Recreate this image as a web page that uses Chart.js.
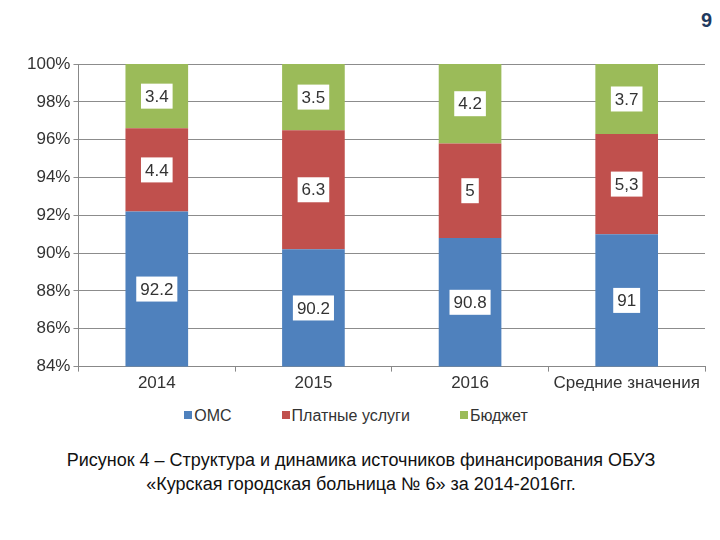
<!DOCTYPE html>
<html>
<head>
 <title>Структура источников финансирования</title>
 <script src="https://cdn.jsdelivr.net/npm/chart.js"></script>
 <style>
  body { margin: 0; width: 720px; height: 540px; background: #fff; font-family: "Liberation Sans", Arial, sans-serif; position: relative; overflow: hidden; }
  #chart-container { position: absolute; left: 0; top: 0; width: 720px; height: 396px; }
  #page-num { position: absolute; right: 8px; top: 9px; font-size: 20px; font-weight: bold; color: #1f3a60; }
  #legend { position: absolute; left: 0; width: 712px; top: 407px; text-align: center; font-size: 16px; color: #333; }
  #legend span.item { margin: 0 25px; }
  #legend span.box { display: inline-block; width: 8px; height: 8px; margin-right: 2px; vertical-align: 2px; }
  #caption { position: absolute; left: 0; width: 722px; top: 448px; text-align: center; font-size: 18px; line-height: 24px; color: #111; }
 </style>
</head>
<body>
 <div id="page-num">9</div>
 <div id="chart-container">
  <canvas id="finChart"></canvas>
 </div>
 <div id="legend"></div>
 <div id="caption">Рисунок 4 – Структура и динамика источников финансирования ОБУЗ<br>«Курская городская больница № 6» за 2014-2016гг.</div>

 <script>
  // data
  const categories = ['2014', '2015', '2016', 'Средние значения'];
  const omsValues = [92.2, 90.2, 90.8, 91];
  const paidValues = [4.4, 6.3, 5, 5.3];
  const budgetValues = [3.4, 3.5, 4.2, 3.7];
  const omsLabels = ['92.2', '90.2', '90.8', '91'];
  const paidLabels = ['4.4', '6.3', '5', '5,3'];
  const budgetLabels = ['3.4', '3.5', '4.2', '3.7'];
  const yTicks = [84, 86, 88, 90, 92, 94, 96, 98, 100];

  const labelSets = [omsLabels, paidLabels, budgetLabels];
  const font = '"Liberation Sans", Arial, sans-serif';

  // white boxes with the value inside each segment
  const boxLabels = {
   id: 'boxLabels',
   afterDatasetsDraw(chart) {
    const ctx = chart.ctx;
    const area = chart.chartArea;
    ctx.save();
    ctx.font = '17px ' + font;
    ctx.textAlign = 'center';
    ctx.textBaseline = 'middle';
    chart.data.datasets.forEach((ds, di) => {
     chart.getDatasetMeta(di).data.forEach((bar, i) => {
      const top = Math.max(bar.y, area.top);
      const bottom = Math.min(bar.base, area.bottom);
      const cy = (top + bottom) / 2;
      const txt = labelSets[di][i];
      const w = ctx.measureText(txt).width + 8;
      const h = 25;
      ctx.fillStyle = '#fff';
      ctx.fillRect(bar.x - w / 2, cy - h / 2, w, h);
      ctx.fillStyle = '#333';
      ctx.fillText(txt, bar.x, cy + 1);
     });
    });
    ctx.restore();
   }
  };

  const ctx = document.getElementById('finChart').getContext('2d');
  const chart = new Chart(ctx, {
   type: 'bar',
   data: {
    labels: categories,
    datasets: [
     { label: 'ОМС', data: omsValues, backgroundColor: '#4f81bd' },
     { label: 'Платные услуги', data: paidValues, backgroundColor: '#c0504d' },
     { label: 'Бюджет', data: budgetValues, backgroundColor: '#9bbb59' }
    ]
   },
   options: {
    responsive: true,
    maintainAspectRatio: false,
    animation: false,
    datasets: { bar: { barPercentage: 0.4, categoryPercentage: 1 } },
    layout: { padding: { top: 64, left: 24, right: 15, bottom: 0 } },
    plugins: {
     legend: { display: false },
     tooltip: { enabled: false }
    },
    scales: {
     x: {
      stacked: true,
      grid: { drawOnChartArea: false, tickLength: 5, color: '#888' },
      border: { color: '#888' },
      ticks: { color: '#333', padding: 2, font: { family: font, size: 17 } }
     },
     y: {
      stacked: true,
      min: 84,
      max: 100,
      afterBuildTicks: axis => { axis.ticks = yTicks.map(v => ({ value: v })); },
      grid: { color: '#8c8c8c', tickLength: 5 },
      border: { color: '#888' },
      ticks: {
       color: '#333', padding: 3,
       font: { family: font, size: 17 },
       callback: v => v + '%'
      }
     }
    }
   },
   plugins: [boxLabels]
  });

  // legend under the chart, built from the datasets
  document.getElementById('legend').innerHTML = chart.data.datasets.map(ds =>
   `<span class="item"><span class="box" style="background:${ds.backgroundColor}"></span>${ds.label}</span>`
  ).join('');
 </script>
</body>
</html>
